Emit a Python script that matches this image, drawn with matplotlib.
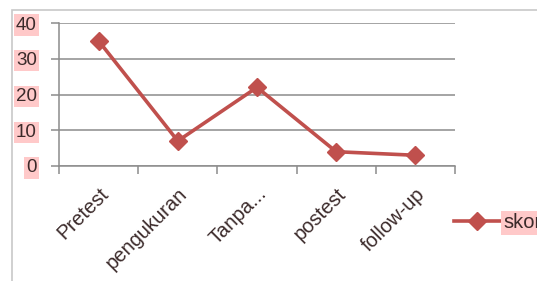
import matplotlib.pyplot as plt
from matplotlib.patches import Rectangle

# data
kategori = ['Pretest', 'pengukuran', 'Tanpa...', 'postest', 'follow-up']
skor = [35, 7, 22, 4, 3]
y_ticks = [0, 10, 20, 30, 40]

merah = '#C0504D'
abu = '#8c8c8c'
pink = '#ffc9c9'
teks = '#3b2a2a'

plt.rcParams['font.family'] = ['Liberation Sans', 'DejaVu Sans']

W, H = 537, 281
fig = plt.figure(figsize=(W / 100, H / 100), dpi=100)

# light border of the chart area (cut off at right/bottom)
fig.patches.append(Rectangle((12 / W, -0.1), 1.2, 1 - 10 / H + 0.1,
                             transform=fig.transFigure, fill=False,
                             edgecolor='#c8c8c8', linewidth=1.2))

ax = fig.add_axes([59 / W, 1 - 166 / H, (455 - 59) / W, (166 - 23) / H])
x = list(range(len(kategori)))
ax.plot(x, skor, color=merah, linewidth=2.6, marker='D', markersize=9,
        label='skor')

ax.set_xlim(-0.5, len(kategori) - 0.5)
ax.set_ylim(0, 40)
ax.set_yticks(y_ticks)
ax.yaxis.grid(True, color=abu, linewidth=1.1)
ax.set_axisbelow(True)

for s in ['top', 'right']:
    ax.spines[s].set_visible(False)
for s in ['left', 'bottom']:
    ax.spines[s].set_color(abu)
    ax.spines[s].set_linewidth(1.1)

# x ticks at category borders, labels at centers
ax.set_xticks([i - 0.5 for i in range(len(kategori) + 1)], minor=True)
ax.set_xticks(x)
ax.tick_params(axis='x', which='minor', length=6, color=abu, width=1.1)
ax.tick_params(axis='x', which='major', length=0, pad=13)
ax.set_xticklabels(kategori, rotation=45, ha='right', rotation_mode='anchor',
                   fontsize=14.5, color=teks)
ax.tick_params(axis='y', length=6, color=abu, width=1.1, pad=10,
               labelsize=13.5, labelcolor=teks)
for lab in ax.get_yticklabels():
    lab.set_bbox(dict(facecolor=pink, edgecolor='none', pad=1.5))

leg = fig.legend(loc='center left', bbox_to_anchor=(454 / W, 1 - 223 / H),
                 frameon=False, borderpad=0, borderaxespad=0,
                 handlelength=2.3, handletextpad=0.15, fontsize=14.5)
for t in leg.get_texts():
    t.set_color(teks)
    t.set_bbox(dict(facecolor=pink, edgecolor='none', pad=1.5))

fig.savefig('out.png', dpi=100)
